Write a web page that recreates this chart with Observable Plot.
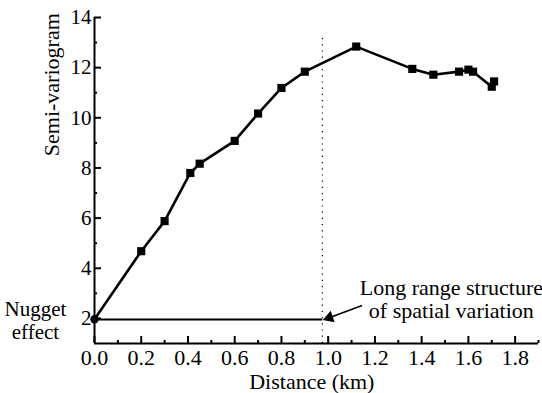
<!DOCTYPE html>
<html>
<head>
<meta charset="utf-8">
<script src="https://cdn.jsdelivr.net/npm/d3@7"></script>
<script src="https://cdn.jsdelivr.net/npm/@observablehq/plot@0.6"></script>
<style>
  html, body { margin: 0; padding: 0; background: #fff; }
  svg, svg text { font-family: "Liberation Serif", "DejaVu Serif", serif !important; }
</style>
</head>
<body>
<div id="chart"></div>
<script>
// Data
const distance = [0.00, 0.20, 0.30, 0.41, 0.45, 0.60, 0.70, 0.80, 0.90, 1.12, 1.36, 1.45, 1.56, 1.60, 1.62, 1.70, 1.71];
const semivariogram = [1.97, 4.68, 5.88, 7.80, 8.17, 9.08, 10.17, 11.19, 11.84, 12.84, 11.95, 11.72, 11.84, 11.92, 11.84, 11.24, 11.45];

const xMajorTicks = [0, 0.2, 0.4, 0.6, 0.8, 1.0, 1.2, 1.4, 1.6, 1.8];
const xMinorTicks = [0.1, 0.3, 0.5, 0.7, 0.9, 1.1, 1.3, 1.5, 1.7, 1.9];
const yMajorTicks = [2, 4, 6, 8, 10, 12, 14];
const yMinorTicks = [3, 5, 7, 9, 11, 13];

const nuggetValue = 1.96;
const rangeDistance = 0.975;

const pts = distance.map((d, i) => ({x: d, y: semivariogram[i]}));
const first = pts.slice(0, 1);
const rest = pts.slice(1);

const serif = "Liberation Serif";

const chart = Plot.plot({
  width: 542,
  height: 393,
  marginLeft: 94,
  marginRight: 4,
  marginTop: 17,
  marginBottom: 50,
  x: {domain: [0, 1.9]},
  y: {domain: [1, 14]},
  style: {fontFamily: serif, fontSize: "22px", color: "black", background: "white"},
  marks: [
    // axis lines
    Plot.ruleY([1], {strokeWidth: 2}),
    Plot.ruleX([0], {strokeWidth: 2}),
    // ticks (inward)
    Plot.axisX(xMajorTicks, {tickSize: -7, text: null, strokeWidth: 2}),
    Plot.axisX(xMinorTicks, {tickSize: -3, text: null, strokeWidth: 2}),
    Plot.axisX(xMajorTicks, {tickSize: 0, tickPadding: 6, tickFormat: d => d.toFixed(1), fontSize: 22, fontFamily: serif, label: null}),
    Plot.axisY(yMajorTicks, {tickSize: -7, text: null, strokeWidth: 2}),
    Plot.axisY(yMinorTicks, {tickSize: -3, text: null, strokeWidth: 2}),
    Plot.axisY(yMajorTicks, {tickSize: 0, tickPadding: 3, fontSize: 21, fontFamily: serif, label: null}),
    // range (dotted vertical)
    Plot.ruleX([rangeDistance], {y1: 1, y2: 13.2, strokeWidth: 1.2, strokeDasharray: "1.2,5"}),
    // nugget line
    Plot.link([{x1: 0, x2: rangeDistance, y: nuggetValue}], {x1: "x1", x2: "x2", y1: "y", y2: "y", strokeWidth: 2}),
    // variogram
    Plot.line(pts, {x: "x", y: "y", strokeWidth: 2.6}),
    Plot.dot(rest, {x: "x", y: "y", symbol: "square", r: 4.6, fill: "black", stroke: "none"}),
    Plot.dot(first, {x: "x", y: "y", symbol: "circle", r: 4.2, fill: "black", stroke: "none"}),
    // annotation arrow
    Plot.link([{x1: 1.145, y1: 2.52, x2: 1.01, y2: 2.05}], {x1: "x1", y1: "y1", x2: "x2", y2: "y2", strokeWidth: 1.6}),
    Plot.dot([{x: 1.005, y: 2.03}], {x: "x", y: "y", symbol: "triangle", r: 4.5, rotate: 251, fill: "black", stroke: "none"}),
    // texts
    Plot.text(["Nugget\neffect"], {x: 0, y: 1.92, dx: -59, text: d => d, fontSize: 21, fontFamily: serif, lineHeight: 1.05, textAnchor: "middle"}),
    Plot.text(["Long range structure\nof spatial variation"], {x: 1.527, y: 2.78, text: d => d, fontSize: 22, fontFamily: serif, lineHeight: 1.06, textAnchor: "middle"}),
    Plot.text(["Semi-variogram"], {x: -0.18, y: 11.32, text: d => d, fontSize: 22, fontFamily: serif, rotate: -90, textAnchor: "middle"}),
    Plot.text(["Distance (km)"], {x: 0.93, y: -0.52, text: d => d, fontSize: 22, fontFamily: serif, textAnchor: "middle"})
  ]
});
document.getElementById("chart").appendChild(chart);
</script>
</body>
</html>
